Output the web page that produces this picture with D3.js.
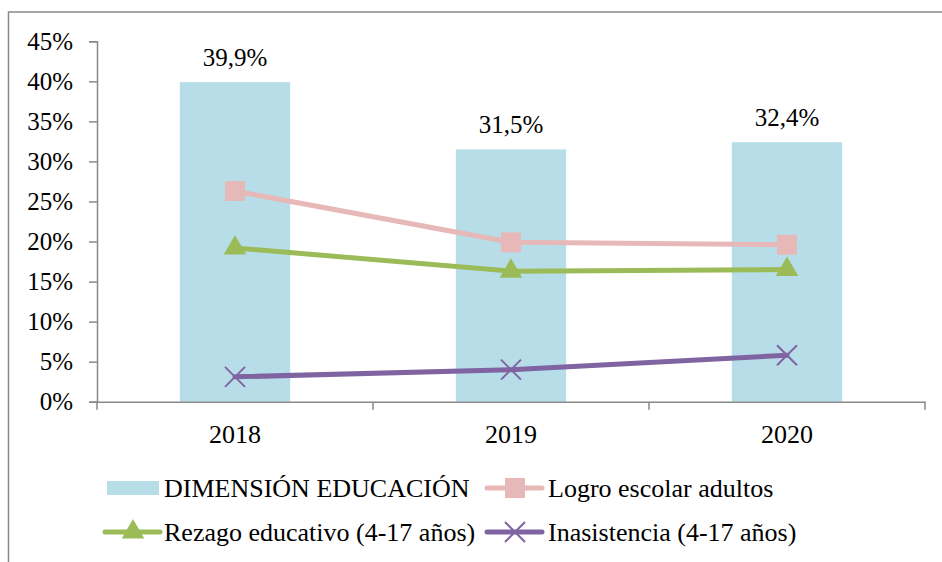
<html>
<head>
<meta charset="utf-8">
<script src="https://d3js.org/d3.v7.min.js"></script>
<style>
  body { margin: 0; background: #fff; }
  svg text { font-family: "Liberation Serif", Tinos, "Times New Roman", Times, "Noto Serif", "DejaVu Serif", serif !important; fill: #000; }
</style>
</head>
<body>
<svg id="chart" width="942" height="562"></svg>

<script>
// data
var years = ["2018", "2019", "2020"];
var dimension = [0.399, 0.315, 0.324];
var dimensionLabels = ["39,9%", "31,5%", "32,4%"];
var logro = [0.263, 0.199, 0.196];
var rezago = [0.192, 0.163, 0.165];
var inasistencia = [0.031, 0.040, 0.058];
var yTicks = [0, 0.05, 0.10, 0.15, 0.20, 0.25, 0.30, 0.35, 0.40, 0.45];

var barColor = "#B7DEE8";
var gridColor = "#898989";

var svg = d3.select("#chart");

// outer frame (runs off the right and bottom edge)
svg.append("rect")
   .attr("x", 8.5).attr("y", 12)
   .attr("width", 960).attr("height", 580)
   .attr("fill", "none")
   .attr("stroke", gridColor)
   .attr("stroke-width", 1.5);

var xAxis = d3.scaleBand()
              .domain(years)
              .range([97, 925])
              .padding(0);

var yAxis = d3.scaleLinear()
              .domain([0, 0.45])
              .range([401.7, 41.3]);

// bars
var barW = xAxis.bandwidth() * 0.4;
svg.selectAll(".bar")
   .data(years)
   .enter().append("rect")
   .attr("class", "bar")
   .attr("x", function(d) { return xAxis(d) + (xAxis.bandwidth() - barW) / 2; })
   .attr("width", barW)
   .attr("y", function(d, i) { return yAxis(dimension[i]); })
   .attr("height", function(d, i) { return yAxis(0) - yAxis(dimension[i]); })
   .attr("fill", barColor);

svg.selectAll(".barlabel")
   .data(years)
   .enter().append("text")
   .attr("x", function(d) { return xAxis(d) + xAxis.bandwidth() / 2; })
   .attr("y", function(d, i) { return yAxis(dimension[i]) - 16; })
   .attr("text-anchor", "middle")
   .style("font-size", "25px")
   .text(function(d, i) { return dimensionLabels[i]; });

// y axis
var gy = svg.append("g")
   .attr("transform", "translate(97,0)")
   .call(d3.axisLeft(yAxis).tickValues(yTicks).tickSize(8).tickPadding(16)
           .tickFormat(d3.format(".0%")));
gy.attr("font-family", null);
gy.select(".domain").attr("stroke", gridColor).attr("stroke-width", 1.5);
gy.selectAll(".tick line").attr("stroke", gridColor).attr("stroke-width", 1.5);
gy.selectAll(".tick text")
  .style("font-size", "25px")
  .attr("fill", "#000");

// x axis: labels at centres, ticks at band edges
var gx = svg.append("g")
   .attr("transform", "translate(0," + yAxis(0) + ")")
   .call(d3.axisBottom(xAxis).tickSize(0).tickPadding(23).tickSizeOuter(0));
gx.attr("font-family", null);
gx.select(".domain").attr("stroke", gridColor).attr("stroke-width", 1.5);
gx.selectAll(".tick text")
  .style("font-size", "26px")
  .attr("fill", "#000");

var edges = [xAxis(years[0])].concat(years.map(function(d) { return xAxis(d) + xAxis.bandwidth(); }));
gx.selectAll(".edge")
  .data(edges)
  .enter().append("line")
  .attr("x1", function(d) { return d; })
  .attr("x2", function(d) { return d; })
  .attr("y1", 0).attr("y2", 8)
  .attr("stroke", gridColor)
  .attr("stroke-width", 1.5);

// line series
var series = [
  { name: "Logro escolar adultos", values: logro, color: "#E6B9B8", marker: "square" },
  { name: "Rezago educativo (4-17 años)", values: rezago, color: "#9BBB59", marker: "triangle" },
  { name: "Inasistencia (4-17 años)", values: inasistencia, color: "#8064A2", marker: "x" }
];

var cx = function(i) { return xAxis(years[i]) + xAxis.bandwidth() / 2; };
var line = d3.line()
             .x(function(d, i) { return cx(i); })
             .y(function(d) { return yAxis(d); });

function drawMarker(g, s, x, y) {
  if (s.marker === "x") {
    g.append("path")
     .attr("d", "M-10,-10L10,10M-10,10L10,-10")
     .attr("transform", "translate(" + x + "," + y + ")")
     .attr("stroke", s.color).attr("stroke-width", 2).attr("fill", "none");
  } else {
    var type = s.marker === "square" ? d3.symbolSquare : d3.symbolTriangle;
    var size = s.marker === "square" ? 400 : 220;
    g.append("path")
     .attr("d", d3.symbol().type(type).size(size)())
     .attr("transform", "translate(" + x + "," + y + ")")
     .attr("fill", s.color);
  }
}

series.forEach(function(s) {
  svg.append("path")
     .datum(s.values)
     .attr("d", line)
     .attr("fill", "none")
     .attr("stroke", s.color)
     .attr("stroke-width", 5)
     .attr("stroke-linecap", "round")
     .attr("stroke-linejoin", "round");
  var g = svg.append("g");
  s.values.forEach(function(v, i) { drawMarker(g, s, cx(i), yAxis(v)); });
});

// legend
var legend = svg.append("g");
legend.append("rect")
      .attr("x", 107).attr("y", 481)
      .attr("width", 52).attr("height", 14)
      .attr("fill", barColor);
legend.append("text")
      .attr("x", 164).attr("y", 497)
      .style("font-size", "26px")
      .text("DIMENSIÓN EDUCACIÓN");

var legendPos = [[487, 488, 548, 497], [105, 532, 164, 541], [487, 532, 548, 541]];
series.forEach(function(s, i) {
  var p = legendPos[i];
  legend.append("line")
        .attr("x1", p[0]).attr("x2", p[0] + 55)
        .attr("y1", p[1]).attr("y2", p[1])
        .attr("stroke", s.color)
        .attr("stroke-width", 5)
        .attr("stroke-linecap", "round");
  drawMarker(legend, s, p[0] + 28, p[1]);
  legend.append("text")
        .attr("x", p[2]).attr("y", p[3])
        .style("font-size", "26px")
        .text(s.name);
});
</script>
</body>
</html>
